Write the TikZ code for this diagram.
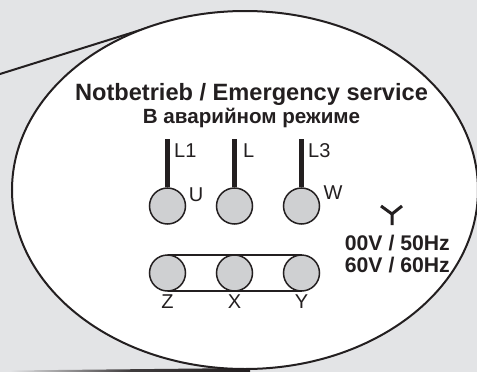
\documentclass[tikz,border=0pt]{standalone}
\usepackage{fontspec}
\setmainfont{Liberation Sans}
\definecolor{bg}{HTML}{E3E4E6}
\definecolor{ink}{HTML}{231F20}
\definecolor{term}{HTML}{CFD0D2}
\tikzset{
 terminal/.style={circle,draw=ink,line width=1.5pt,fill=term,minimum size=36pt,inner sep=0pt},
 lbl/.style={text=ink,font=\fontsize{20}{20}\selectfont,inner sep=0pt},
 bold/.style={text=ink,font=\bfseries\fontsize{#1}{#1}\selectfont,inner sep=0pt},
 outline/.style={draw=ink,line width=2pt},
 wire/.style={draw=ink,line width=5pt},
 thin/.style={draw=ink,line width=1.5pt}
}
\begin{document}
\begin{tikzpicture}[x=1pt,y=-1pt]
\useasboundingbox (0,0) rectangle (477,372);
\fill[bg] (0,0) rectangle (477,372);
\coordinate (a1) at (0,74);
\coordinate (a2) at (150,27);
\draw[outline] (a1) -- (a2);
\shade[left color=bg,right color=ink,middle color=ink!85!bg] (10,370.5) -- (250,368) -- (250,372) -- (10,372) -- cycle;
\filldraw[fill=white,draw=ink,line width=2pt] (245,190) ellipse [x radius=233,y radius=179];
\node[bold=23.6] (t1) at (251.5,94) {Notbetrieb / Emergency service};
\node[bold=20.6] (t2) at (251.5,118) {В аварийном режиме};
\coordinate (w1) at (167.5,139);
\coordinate (w2) at (234.5,139);
\coordinate (w3) at (301.5,139);
\node[terminal] (u) at (167.5,206) {};
\node[terminal] (v) at (234.5,206) {};
\node[terminal] (w) at (301.5,206) {};
\draw[thin] (167.5,255) -- (301.5,255) (167.5,291) -- (301.5,291);
\node[terminal] (z) at (167.5,273) {};
\node[terminal] (x) at (234.5,273) {};
\node[terminal] (y) at (301.5,273) {};
\draw[wire] (w1) -- (u.north);
\draw[wire] (w2) -- (v.north);
\draw[wire] (w3) -- (w.north);
\node[lbl,anchor=west] at (174,151) {L1};
\node[lbl,anchor=west] at (243,151) {L};
\node[lbl,anchor=west] at (308,151) {L3};
\node[lbl] at (196,195) {U};
\node[lbl] at (333,193) {W};
\node[lbl] at (167.5,302) {Z};
\node[lbl] at (234.5,302) {X};
\node[lbl] at (301.5,302) {Y};
\coordinate (yc) at (392,214);
\draw[ink,line width=3pt] (381,206) -- (yc) -- (402,206) (yc) -- (392,225);
\node[bold=21.2,anchor=east] at (450,243) {00V / 50Hz};
\node[bold=21.2,anchor=east] at (450,265) {60V / 60Hz};
\end{tikzpicture}
\end{document}
